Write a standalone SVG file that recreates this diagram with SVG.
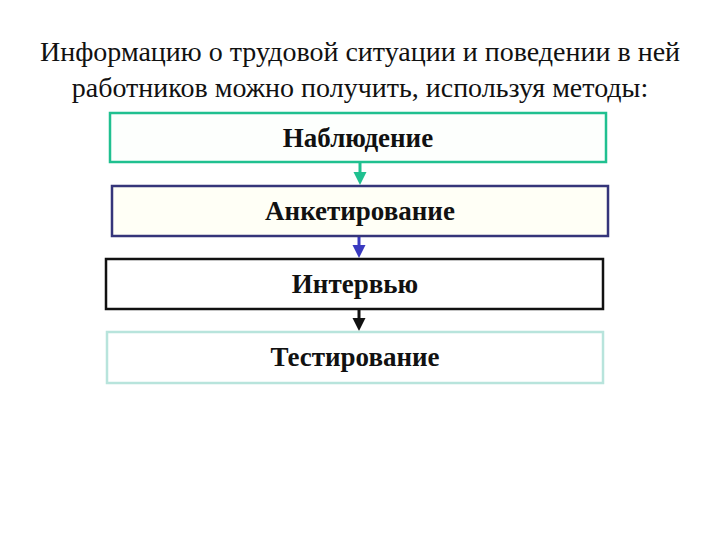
<svg xmlns="http://www.w3.org/2000/svg" width="720" height="540" viewBox="0 0 720 540">
<style>
.title{font-family:"Liberation Serif","Times New Roman",serif;font-size:28px;fill:#111;text-anchor:middle}
.lbl{font-family:"Liberation Serif","Times New Roman",serif;font-size:27px;font-weight:bold;fill:#111;text-anchor:middle}
.box{stroke-width:2.5}
</style>
<defs>
<marker id="ahT" markerWidth="4.5" markerHeight="4.5" refX="2.5" refY="2.25" orient="auto" markerUnits="strokeWidth"><path d="M0,0 L4.5,2.25 L0,4.5 Z" fill="#20c090"/></marker>
<marker id="ahB" markerWidth="4.5" markerHeight="4.5" refX="2.5" refY="2.25" orient="auto" markerUnits="strokeWidth"><path d="M0,0 L4.5,2.25 L0,4.5 Z" fill="#3a3ac0"/></marker>
<marker id="ahK" markerWidth="4.5" markerHeight="4.5" refX="2.5" refY="2.25" orient="auto" markerUnits="strokeWidth"><path d="M0,0 L4.5,2.25 L0,4.5 Z" fill="#111"/></marker>
</defs>
<rect width="720" height="540" fill="#fff"/>
<text class="title" x="360" y="61">Информацию о трудовой ситуации и поведении в ней</text>
<text class="title" x="360" y="97">работников можно получить, используя методы:</text>
<g id="connectors">
<line x1="360" y1="163" x2="360" y2="179" stroke="#20c090" stroke-width="3" marker-end="url(#ahT)"/>
<line x1="359" y1="237" x2="359" y2="252" stroke="#3a3ac0" stroke-width="3" marker-end="url(#ahB)"/>
<line x1="359" y1="310" x2="359" y2="325" stroke="#111" stroke-width="3" marker-end="url(#ahK)"/>
</g>
<g id="n1"><rect class="box" x="110" y="113" width="496" height="49" fill="#fdfffd" stroke="#20c090"/><text class="lbl" x="358" y="147">Наблюдение</text></g>
<g id="n2"><rect class="box" x="112" y="186" width="496" height="50" fill="#fffff6" stroke="#35357a"/><text class="lbl" x="360" y="220">Анкетирование</text></g>
<g id="n3"><rect class="box" x="106" y="259" width="497" height="50" fill="#fff" stroke="#111"/><text class="lbl" x="355" y="293">Интервью</text></g>
<g id="n4"><rect class="box" x="107" y="332" width="496" height="51" fill="#fff" stroke="#b8e4dc"/><text class="lbl" x="355" y="366">Тестирование</text></g>
</svg>
